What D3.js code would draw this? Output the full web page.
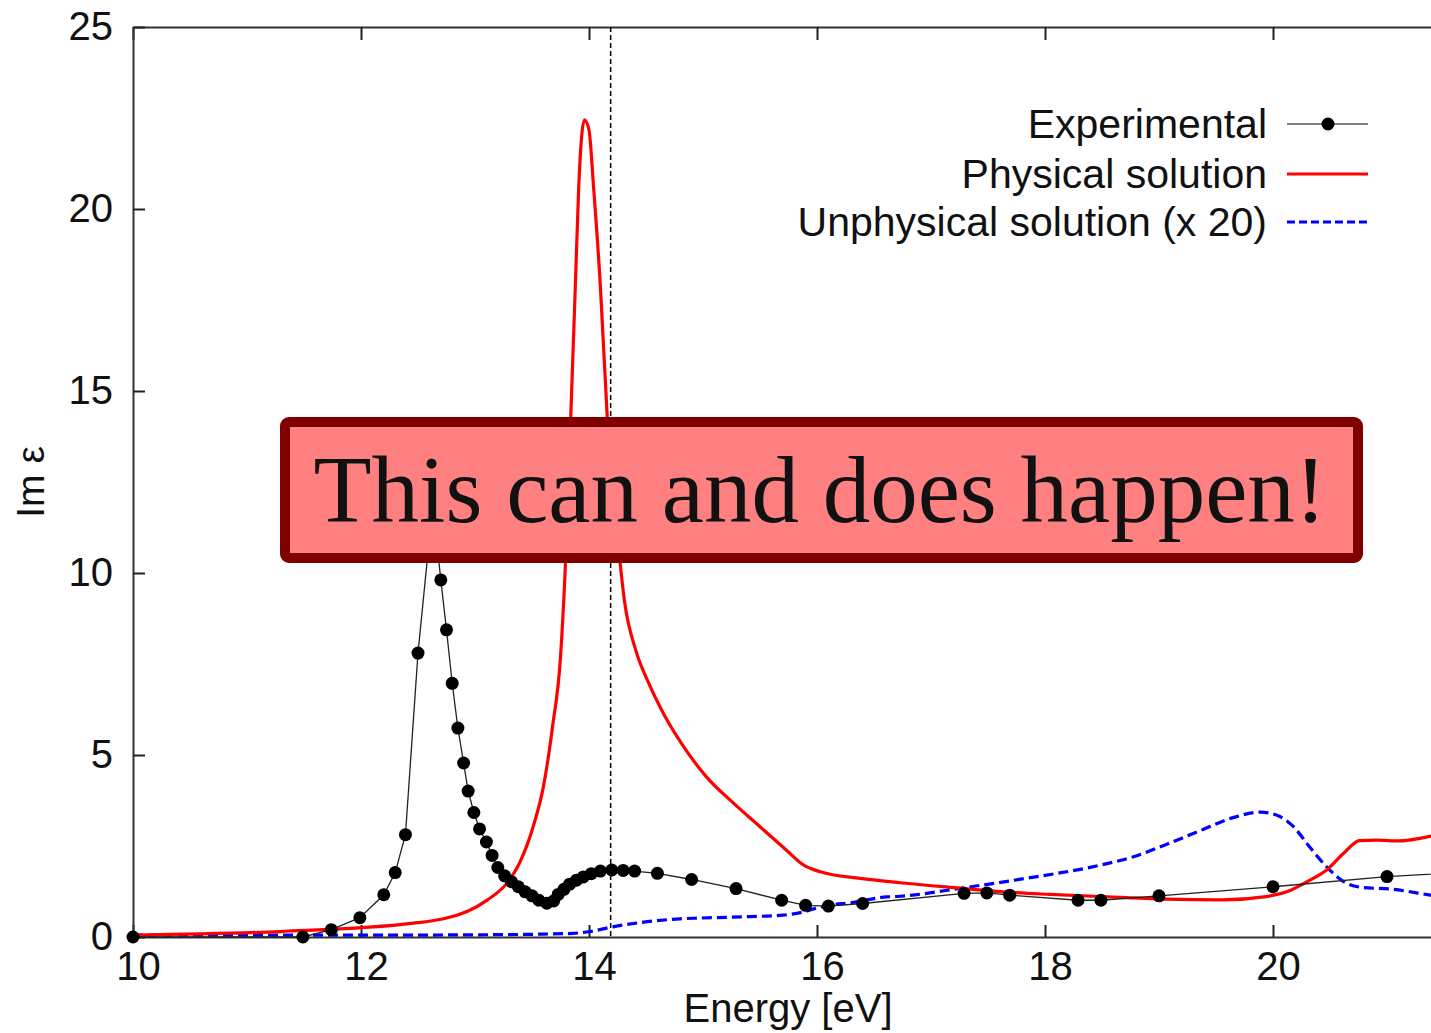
<!DOCTYPE html>
<html>
<head>
<meta charset="utf-8">
<script src="https://cdn.jsdelivr.net/npm/d3@7"></script>
<style>
  body { margin: 0; background: #fff; }
  svg { display: block; }
  text { font-family: "Liberation Sans", Arial, sans-serif; fill: #111; }
</style>
</head>
<body>
<script>
// energy (eV) and Im eps of the measured points
var expE = [10.0, 11.49, 11.74, 11.99, 12.20, 12.30, 12.39, 12.50, 12.63, 12.70, 12.75, 12.80, 12.85, 12.90,
  12.94, 12.99, 13.04, 13.10, 13.15, 13.20, 13.26, 13.32, 13.38, 13.44, 13.50, 13.56, 13.63, 13.69, 13.73,
  13.78, 13.83, 13.89, 13.95, 14.02, 14.10, 14.20, 14.30, 14.40, 14.60, 14.90, 15.29, 15.69, 15.90, 16.10,
  16.40, 17.29, 17.49, 17.69, 18.29, 18.49, 19.00, 20.00, 21.00, 22.00];
var expV = [0.0, 0.0, 0.2, 0.53, 1.16, 1.77, 2.81, 7.8, 11.9, 9.81, 8.44, 6.97, 5.74, 4.78,
  4.01, 3.42, 2.97, 2.61, 2.24, 1.91, 1.68, 1.52, 1.38, 1.24, 1.13, 1.01, 0.93, 0.99, 1.17,
  1.31, 1.45, 1.56, 1.65, 1.74, 1.81, 1.84, 1.83, 1.81, 1.75, 1.58, 1.33, 1.01, 0.87, 0.85,
  0.92, 1.20, 1.21, 1.15, 1.01, 1.01, 1.13, 1.38, 1.66, 1.84];

// physical solution
var physE = [10.0, 11.29, 12.46, 12.93, 13.11, 13.28, 13.39, 13.51, 13.60, 13.68, 13.75, 13.79, 13.84, 13.88,
  13.91, 13.96, 14.00, 14.04, 14.10, 14.16, 14.27, 14.31, 14.41, 14.52, 14.66, 14.83, 15.03, 15.27, 15.50,
  15.73, 15.88, 16.03, 16.38, 16.73, 17.26, 17.63, 18.04, 18.66, 19.06, 19.55, 19.94, 20.12, 20.30, 20.47,
  20.62, 20.76, 20.91, 21.11, 21.29, 21.39, 22.0];
var physV = [0.05, 0.15, 0.38, 0.70, 1.02, 1.48, 2.03, 3.03, 4.13, 5.77, 7.69, 10.0, 14.29, 17.87,
  20.61, 22.45, 22.17, 20.61, 17.87, 14.29, 10.36, 9.26, 7.88, 7.0, 6.1, 5.23, 4.40, 3.67, 3.03,
  2.39, 1.98, 1.79, 1.61, 1.49, 1.34, 1.24, 1.17, 1.09, 1.04, 1.02, 1.11, 1.24, 1.52, 1.84,
  2.30, 2.65, 2.66, 2.64, 2.71, 2.77, 2.9];

// unphysical solution, already multiplied by 20
var unphE = [10.0, 12.0, 13.0, 13.6, 13.86, 14.01, 14.21, 14.51, 14.80, 14.97, 15.41, 15.70, 15.87, 16.0,
  16.12, 16.29, 16.61, 16.73, 17.26, 17.83, 18.45, 18.77, 19.07, 19.36, 19.65, 19.89, 20.03, 20.18,
  20.32, 20.47, 20.62, 20.76, 21.05, 21.38, 22.0];
var unphV = [0.05, 0.05, 0.06, 0.08, 0.1, 0.15, 0.28, 0.42, 0.5, 0.52, 0.56, 0.6, 0.68, 0.8,
  0.88, 0.94, 1.1, 1.12, 1.34, 1.61, 1.95, 2.2, 2.55, 2.92, 3.28, 3.43, 3.35, 3.03,
  2.48, 1.93, 1.52, 1.37, 1.31, 1.15, 0.85];

var xTicks = [10, 12, 14, 16, 18, 20];
var yTicks = [0, 5, 10, 15, 20, 25];
var markerE = 14.19;
var legendNames = ["Experimental", "Physical solution", "Unphysical solution (x 20)"];
var note = "This can and does happen!";

var W = 1431, H = 1033;
var svg = d3.select("body").append("svg").attr("width", W).attr("height", H);

// the right part of the plot runs past the edge of the picture
var x = d3.scaleLinear().domain([10, 22]).range([133, 133 + 12 * 114]);
var y = d3.scaleLinear().domain([0, 25]).range([937, 27]);

function pairs(a, b) { return a.map(function(v, i) { return [v, b[i]]; }); }

// axes, ticks pointing inwards like gnuplot
function styleAxis(g) {
  g.selectAll("path").attr("stroke", "#333").attr("stroke-width", 2).attr("fill", "none");
  g.selectAll("line").attr("stroke", "#222").attr("stroke-width", 2);
  g.selectAll("text").style("font-size", "40px").attr("fill", "#111").attr("font-family", null);
}
svg.append("g").attr("transform", "translate(0,937)")
  .call(d3.axisBottom(x).tickValues(xTicks).tickSizeInner(-12).tickSizeOuter(0).tickPadding(15))
  .call(styleAxis)
  .call(function(g) { g.selectAll("text").attr("dx", 5); });
svg.append("g").attr("transform", "translate(0,27)")
  .call(d3.axisTop(x).tickValues(xTicks).tickSizeInner(-13).tickSizeOuter(0).tickFormat(""))
  .call(styleAxis);
svg.append("g").attr("transform", "translate(133,0)")
  .call(d3.axisLeft(y).tickValues(yTicks).tickSizeInner(-12).tickSizeOuter(0).tickPadding(20))
  .call(styleAxis);

svg.append("text").attr("x", 788).attr("y", 1022).attr("text-anchor", "middle")
  .style("font-size", "40px").text("Energy [eV]");
svg.append("text").attr("transform", "translate(44,482) rotate(-90)").attr("text-anchor", "middle")
  .style("font-size", "39px").text("Im ε");

// vertical marker
svg.append("line")
  .attr("x1", x(markerE)).attr("x2", x(markerE)).attr("y1", y(25)).attr("y2", y(0))
  .attr("stroke", "#000").attr("stroke-width", 1.5).attr("stroke-dasharray", "5,3");

var smooth = d3.line().x(function(d) { return x(d[0]); }).y(function(d) { return y(d[1]); })
  .curve(d3.curveMonotoneX);
var straight = d3.line().x(function(d) { return x(d[0]); }).y(function(d) { return y(d[1]); });

svg.append("path").datum(pairs(unphE, unphV)).attr("d", smooth)
  .attr("fill", "none").attr("stroke", "#0000ff").attr("stroke-width", 3.2).attr("stroke-dasharray", "10,5");

svg.append("path").datum(pairs(physE, physV)).attr("d", smooth)
  .attr("fill", "none").attr("stroke", "#ff0000").attr("stroke-width", 3.2).attr("stroke-linejoin", "round");

var expData = pairs(expE, expV);
svg.append("path").datum(expData).attr("d", straight)
  .attr("fill", "none").attr("stroke", "#222").attr("stroke-width", 1.3);
svg.append("g").selectAll("circle").data(expData).enter().append("circle")
  .attr("cx", function(d) { return x(d[0]); })
  .attr("cy", function(d) { return y(d[1]); })
  .attr("r", 6.5).attr("fill", "#000");

// legend
var legY = [124, 174, 222];
var leg = svg.append("g");
legendNames.forEach(function(name, i) {
  leg.append("text").attr("x", 1267).attr("y", legY[i] + 14).attr("text-anchor", "end")
    .style("font-size", "41px").text(name);
});
leg.append("line").attr("x1", 1287).attr("x2", 1368).attr("y1", legY[0]).attr("y2", legY[0])
  .attr("stroke", "#555").attr("stroke-width", 1.5);
leg.append("circle").attr("cx", 1328).attr("cy", legY[0]).attr("r", 6.5).attr("fill", "#000");
leg.append("line").attr("x1", 1287).attr("x2", 1368).attr("y1", legY[1]).attr("y2", legY[1])
  .attr("stroke", "#ff0000").attr("stroke-width", 3.2);
leg.append("line").attr("x1", 1287).attr("x2", 1368).attr("y1", legY[2]).attr("y2", legY[2])
  .attr("stroke", "#0000ff").attr("stroke-width", 3.2).attr("stroke-dasharray", "8,4");

// annotation box on top of everything
svg.append("rect").attr("x", 285).attr("y", 422).attr("width", 1073).attr("height", 136)
  .attr("rx", 4).attr("fill", "#ff8080").attr("stroke", "#800000").attr("stroke-width", 10);
svg.append("text").attr("x", 820).attr("y", 522).attr("text-anchor", "middle")
  .style("font-family", "'Liberation Serif', 'Times New Roman', serif").style("font-size", "95px")
  .attr("fill", "#000").text(note);
</script>
</body>
</html>
